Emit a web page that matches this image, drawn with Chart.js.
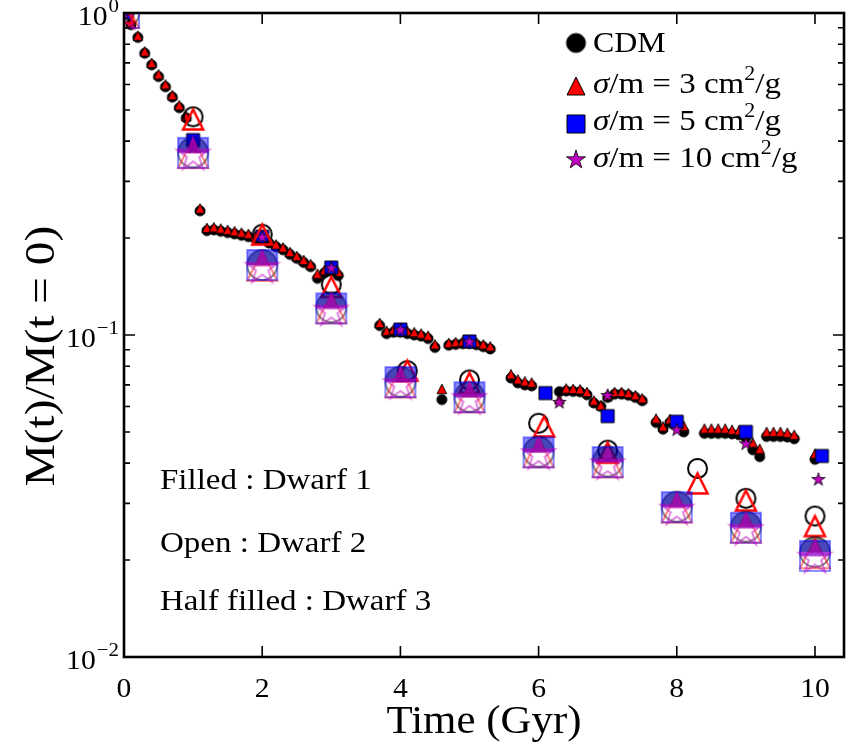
<!DOCTYPE html>
<html>
<head>
<meta charset="utf-8">
<script src="https://cdn.jsdelivr.net/npm/chart.js@4.4.0/dist/chart.umd.min.js"></script>
<style>
  html, body { margin: 0; padding: 0; background: #fff; }
  #wrap { width: 850px; height: 747px; }
</style>
</head>
<body>
<div id="wrap"><canvas id="massChart" width="850" height="747"></canvas></div>
<script>
// Mass fraction M(t)/M(t=0) for three dwarfs, CDM vs SIDM runs

// Dwarf 1 (filled) - CDM and sigma/m = 3 sampled every 0.1 Gyr
const timeD1 = [
    0, 0.1, 0.2, 0.3, 0.4, 0.5, 0.6, 0.7, 0.8, 0.9, 1.0, 1.1,
    1.2, 1.3, 1.4, 1.5, 1.6, 1.7, 1.8, 1.9, 2.0, 2.1, 2.2, 2.3, 2.4, 2.5, 2.6, 2.7, 2.8, 2.9, 3.0, 3.1,
    3.7, 3.8, 3.9, 4.0, 4.1, 4.2, 4.3, 4.4, 4.5, 4.6, 4.7, 4.8, 4.9, 5.0, 5.1, 5.2, 5.3,
    5.6, 5.7, 5.8, 5.9,
    6.3, 6.4, 6.5, 6.6, 6.7, 6.8, 6.9, 7.0, 7.1, 7.2, 7.3, 7.4, 7.5,
    7.7, 7.8, 7.9, 8.0, 8.1,
    8.4, 8.5, 8.6, 8.7, 8.8, 8.9, 9.0, 9.1, 9.2, 9.3, 9.4, 9.5, 9.6, 9.7,
    10.0
];
const cdmD1 = [
    1.0, 0.92, 0.84, 0.75, 0.69, 0.635, 0.59, 0.548, 0.508, 0.472, 0.40, 0.243,
    0.211, 0.212, 0.210, 0.208, 0.206, 0.204, 0.202, 0.199, 0.200, 0.193, 0.188, 0.184, 0.178, 0.173, 0.168, 0.163, 0.150, 0.156, 0.158, 0.153,
    0.107, 0.101, 0.102, 0.102, 0.101, 0.100, 0.0992, 0.0975, 0.0915, 0.0630, 0.0930, 0.0935, 0.0940, 0.0940, 0.0933, 0.0920, 0.0905,
    0.0735, 0.0710, 0.0700, 0.0695,
    0.0667, 0.0670, 0.0668, 0.0666, 0.0652, 0.0615, 0.0600, 0.0640, 0.0655, 0.0655, 0.0650, 0.0640, 0.0625,
    0.0535, 0.0510, 0.0535, 0.0520, 0.0500,
    0.0495, 0.0495, 0.0495, 0.0495, 0.0493, 0.0490, 0.0480, 0.0440, 0.0419, 0.0484, 0.0484, 0.0484, 0.0482, 0.0476,
    0.0411
];
const sidm3D1 = [
    1.0, 0.93, 0.85, 0.76, 0.70, 0.645, 0.60, 0.556, 0.517, 0.478, 0.40, 0.247,
    0.215, 0.216, 0.214, 0.212, 0.210, 0.208, 0.206, 0.203, 0.202, 0.196, 0.191, 0.187, 0.181, 0.176, 0.171, 0.166, 0.155, 0.159, 0.161, 0.157,
    0.109, 0.103, 0.104, 0.104, 0.103, 0.102, 0.101, 0.0995, 0.0935, 0.0680, 0.0945, 0.0950, 0.0955, 0.0955, 0.0948, 0.0935, 0.0922,
    0.0755, 0.0728, 0.0718, 0.0712,
    0.0632, 0.0682, 0.0680, 0.0678, 0.0665, 0.0626, 0.0605, 0.0650, 0.0665, 0.0665, 0.0660, 0.0650, 0.0636,
    0.0550, 0.0520, 0.0548, 0.0535, 0.0522,
    0.0512, 0.0512, 0.0512, 0.0512, 0.0508, 0.0506, 0.0495, 0.0463, 0.0443, 0.0500, 0.0500, 0.0500, 0.0497, 0.0490,
    0.0428
];

// Dwarf 1 - sigma/m = 5 and 10, coarser outputs
const timeS5D1 = [0, 1, 2, 3, 4, 5, 6.1, 7, 8, 9, 10.1];
const sidm5D1 = [1.0, 0.403, 0.202, 0.162, 0.104, 0.0955, 0.066, 0.056, 0.0538, 0.050, 0.0421];
const timeS10D1 = [0, 1, 2, 3, 4, 5, 6.3, 7, 8, 9, 10.05];
const sidm10D1 = [1.0, 0.385, 0.202, 0.162, 0.104, 0.0955, 0.062, 0.0651, 0.0509, 0.0461, 0.0357];

// Dwarf 2 (open)
const timeCdmD2 = [0, 1, 2, 3, 4.1, 5, 6, 7, 8.3, 9, 10];
const cdmD2 = [1.0, 0.476, 0.2055, 0.1437, 0.0775, 0.0725, 0.0532, 0.0439, 0.0385, 0.0311, 0.0274];
const timeS3D2 = [0, 1, 2, 3, 4.1, 5, 6.08, 7, 8.3, 9, 10];
const sidm3D2 = [1.0, 0.467, 0.205, 0.141, 0.0775, 0.071, 0.052, 0.0431, 0.0346, 0.0306, 0.0255];

// Dwarf 3 (half filled)
const timeD3 = [0, 1, 2, 3, 4, 5, 6, 7, 8, 9, 10];
const cdmD3 = [1.0, 0.369, 0.165, 0.122, 0.0716, 0.0643, 0.0434, 0.0405, 0.0293, 0.0254, 0.0212];
const sidm3D3 = [1.0, 0.367, 0.164, 0.121, 0.0712, 0.0640, 0.0432, 0.0402, 0.0291, 0.0252, 0.0210];
const sidm5D3 = [1.0, 0.368, 0.165, 0.121, 0.0714, 0.0641, 0.0432, 0.0403, 0.0292, 0.0252, 0.0206];
const sidm10D3 = [1.0, 0.366, 0.163, 0.120, 0.0710, 0.0638, 0.0430, 0.0400, 0.0289, 0.0250, 0.0205];

// Axis ticks
const xTicks = [0, 2, 4, 6, 8, 10];
const yTicks = [0.01, 0.1, 1];
const yTickExps = ['\u22122', '\u22121', '0'];

const legendLabels = ['CDM', '3', '5', '10'];

const SERIF = '"Liberation Serif", "DejaVu Serif", serif';
const SX = 1.1;   // widen glyphs a bit, closer to Computer Modern
const PURPLE = '#bf00bf';

// Marker drawn on a small canvas, used as pointStyle
function makeMarker(shape, size, fill, edge, lw, opt = {}) {
    const dim = Math.ceil(size + lw * 2 + 2);
    const c = document.createElement('canvas');
    c.width = c.height = dim;
    const g = c.getContext('2d');
    const m = dim / 2, r = size / 2;
    g.globalAlpha = opt.alpha || 1;
    g.beginPath();
    if (shape === 'circle') {
        g.arc(m, m, r, 0, Math.PI * 2);
    } else if (shape === 'square') {
        g.rect(m - r, m - r, size, size);
    } else if (shape === 'triangle') {
        g.moveTo(m, m - r); g.lineTo(m + r, m + r); g.lineTo(m - r, m + r); g.closePath();
    } else if (shape === 'star') {
        for (let k = 0; k < 10; k++) {
            const rr = k % 2 ? r * 0.382 : r;
            const ang = -Math.PI / 2 + k * Math.PI / 5;
            g.lineTo(m + rr * Math.cos(ang), m + rr * Math.sin(ang) + r * 0.09);
        }
        g.closePath();
    }
    if (fill) {
        if (opt.half) {
            g.save(); g.clip(); g.fillStyle = fill; g.fillRect(0, 0, dim, m); g.restore();
        } else {
            g.fillStyle = fill; g.fill();
        }
    }
    if (edge) { g.lineWidth = lw; g.strokeStyle = edge; g.stroke(); }
    return c;
}

const markers = {
    cdm1: makeMarker('circle', 10, '#000', '#000', 1),
    s31: makeMarker('triangle', 9.5, '#ff0000', '#000', 1),
    s51: makeMarker('square', 13, '#0000ff', '#000', 1),
    s101: makeMarker('star', 14, PURPLE, '#000', 0.8),
    cdm2: makeMarker('circle', 19, null, '#000', 2),
    s32: makeMarker('triangle', 20, null, '#ff0000', 2.5),
    cdm3: makeMarker('circle', 30, '#000', '#000', 2, { half: true, alpha: 0.5 }),
    s33: makeMarker('triangle', 30, '#ff0000', '#ff0000', 2, { half: true, alpha: 0.5 }),
    s53: makeMarker('square', 30, '#0000ff', '#0000ff', 2, { half: true, alpha: 0.45 }),
    s103: makeMarker('star', 34, PURPLE, PURPLE, 2, { half: true, alpha: 0.5 })
};
const legendMarkers = [
    makeMarker('circle', 19, '#000', '#000', 1),
    makeMarker('triangle', 18, '#ff0000', '#000', 1),
    makeMarker('square', 18, '#0000ff', '#000', 1),
    makeMarker('star', 20, PURPLE, '#000', 0.8)
];

const pts = (xs, ys) => xs.map((t, i) => ({ x: t, y: ys[i] }));

// bottom-to-top drawing order
const layers = [
    ['CDM dwarf 1', pts(timeD1, cdmD1), markers.cdm1],
    ['3 dwarf 1', pts(timeD1, sidm3D1), markers.s31],
    ['5 dwarf 1', pts(timeS5D1, sidm5D1), markers.s51],
    ['10 dwarf 1', pts(timeS10D1, sidm10D1), markers.s101],
    ['CDM dwarf 2', pts(timeCdmD2, cdmD2), markers.cdm2],
    ['3 dwarf 2', pts(timeS3D2, sidm3D2), markers.s32],
    ['CDM dwarf 3', pts(timeD3, cdmD3), markers.cdm3],
    ['3 dwarf 3', pts(timeD3, sidm3D3), markers.s33],
    ['5 dwarf 3', pts(timeD3, sidm5D3), markers.s53],
    ['10 dwarf 3', pts(timeD3, sidm10D3), markers.s103]
];

const datasets = layers.map(([label, data, style], i) => ({
    label: label,
    data: data,
    pointStyle: style,
    pointRadius: 5,
    pointHoverRadius: 5,
    showLine: false,
    clip: 0,
    order: layers.length - i
}));

// text helpers
function putText(ctx, str, x, y, size, align, italic) {
    ctx.font = (italic ? 'italic ' : '') + size + 'px ' + SERIF;
    const w = ctx.measureText(str).width * SX;
    const x0 = align === 'right' ? x - w : align === 'center' ? x - w / 2 : x;
    ctx.save();
    ctx.translate(x0, y);
    ctx.scale(SX, 1);
    ctx.textAlign = 'left';
    ctx.textBaseline = 'alphabetic';
    ctx.fillStyle = '#000';
    ctx.fillText(str, 0, 0);
    ctx.restore();
    return w;
}

function putRuns(ctx, parts, x, y) {
    let cx = x;
    parts.forEach(p => {
        cx += putText(ctx, p.t, cx, y + (p.dy || 0), p.size, 'left', p.italic);
    });
    return cx;
}

const framePlugin = {
    id: 'frame',
    afterDatasetsDraw(chart) {
        const { ctx, chartArea: a, scales: { x, y } } = chart;
        ctx.save();
        ctx.strokeStyle = '#000';
        ctx.lineWidth = 1.6;
        ctx.beginPath();
        xTicks.forEach(v => {
            const px = x.getPixelForValue(v);
            ctx.moveTo(px, a.bottom); ctx.lineTo(px, a.bottom - 11);
            ctx.moveTo(px, a.top); ctx.lineTo(px, a.top + 11);
        });
        yTicks.forEach((v, i) => {
            const py = y.getPixelForValue(v);
            ctx.moveTo(a.left, py); ctx.lineTo(a.left + 11, py);
            ctx.moveTo(a.right, py); ctx.lineTo(a.right - 11, py);
            if (i < yTicks.length - 1) {
                for (let k = 2; k < 10; k++) {
                    const pm = y.getPixelForValue(k * v);
                    ctx.moveTo(a.left, pm); ctx.lineTo(a.left + 6, pm);
                    ctx.moveTo(a.right, pm); ctx.lineTo(a.right - 6, pm);
                }
            }
        });
        ctx.stroke();
        ctx.lineWidth = 2.6;
        ctx.strokeRect(a.left, a.top, a.right - a.left, a.bottom - a.top);
        ctx.restore();
    },
    afterDraw(chart) {
        const { ctx, chartArea: a, scales: { x, y } } = chart;
        ctx.save();

        // x tick labels
        xTicks.forEach(v => putText(ctx, String(v), x.getPixelForValue(v), a.bottom + 40, 27, 'center'));

        // y tick labels 10^n
        yTicks.forEach((v, i) => {
            const py = y.getPixelForValue(v);
            const right = a.left - 5;
            ctx.font = '19px ' + SERIF;
            const ew = ctx.measureText(yTickExps[i]).width * SX;
            putText(ctx, yTickExps[i], right, py - 1, 19, 'right');
            putText(ctx, '10', right - ew - 1, py + 12, 27, 'right');
        });

        // axis titles
        putText(ctx, 'Time (Gyr)', (a.left + a.right) / 2, 733, 39, 'center');
        ctx.save();
        ctx.translate(54, 356);
        ctx.rotate(-Math.PI / 2);
        putText(ctx, 'M(t)/M(t = 0)', 0, 0, 43, 'center');
        ctx.restore();

        // legend
        const rows = [43, 86, 124, 159];
        const bases = [52, 93, 130, 167];
        legendMarkers.forEach((m, i) => ctx.drawImage(m, 576 - m.width / 2, rows[i] - m.height / 2));
        putText(ctx, legendLabels[0], 593, bases[0], 29, 'left');
        for (let i = 1; i < 4; i++) {
            putRuns(ctx, [
                { t: '\u03c3', size: 30, italic: true },
                { t: '/m = ' + legendLabels[i] + ' cm', size: 30 },
                { t: '2', size: 20, dy: -13 },
                { t: '/g', size: 30 }
            ], 593, bases[i]);
        }

        // dwarf key
        putText(ctx, 'Filled : Dwarf 1', 160, 489, 30, 'left');
        putText(ctx, 'Open : Dwarf 2', 160, 552, 30, 'left');
        putText(ctx, 'Half filled : Dwarf 3', 160, 610, 30, 'left');
        ctx.restore();
    }
};

new Chart(document.getElementById('massChart'), {
    type: 'scatter',
    data: { datasets: datasets },
    options: {
        responsive: false,
        animation: false,
        devicePixelRatio: 1,
        layout: { padding: { left: 124, top: 13, right: 1, bottom: 90 } },
        plugins: {
            legend: { display: false },
            tooltip: { enabled: false }
        },
        scales: {
            x: { type: 'linear', min: 0, max: 10.42, display: false },
            y: { type: 'logarithmic', min: 0.01, max: 1, display: false }
        }
    },
    plugins: [framePlugin]
});
</script>
</body>
</html>
